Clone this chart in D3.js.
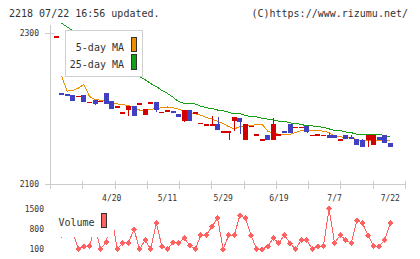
<!DOCTYPE html>
<html>
<head>
<meta charset="utf-8">
<script src="https://cdn.jsdelivr.net/npm/d3@7"></script>
<style>
  body { margin: 0; background: #fff; }
  svg { display: block; }
  text { font-family: "DejaVu Sans Mono", monospace; fill: #333; }
</style>
</head>
<body>
<script>
// daily candles, oldest first (61 trading days)
const openP = [2296,2220,2219,2218,2217,2218,2209,2211,2210,2220,
  2210,2203,2195,2198,2203,2207,2192,2208,2208,2196,
  2198,2197,2193,2184,2198,2195,2181,2179,2179,2179,
  2170,2170,2183,2187,2158,2177,2166,2159,2165,2158,
  2166,2170,2180,2176,2176,2177,2165,2166,2165,2165,
  2165,2159,2165,2162,2160,2158,2158,2151,2162,2165,
  2154];
const highP = [2296,2220,2219,2218,2217,2218,2209,2211,2210,2220,
  2210,2203,2195,2203,2203,2207,2199,2208,2208,2196,
  2198,2197,2193,2198,2198,2195,2181,2179,2190,2189,
  2170,2170,2189,2187,2179,2177,2166,2159,2165,2187,
  2166,2170,2180,2176,2176,2177,2165,2166,2165,2167,
  2165,2159,2165,2165,2160,2160,2165,2165,2162,2165,
  2154];
const lowP = [2296,2218,2216,2210,2217,2208,2209,2204,2210,2206,
  2199,2203,2195,2190,2190,2207,2192,2208,2196,2196,
  2198,2194,2189,2182,2184,2195,2181,2179,2179,2171,
  2170,2158,2170,2166,2158,2177,2166,2159,2158,2158,
  2166,2167,2167,2176,2176,2167,2165,2166,2165,2161,
  2161,2159,2160,2160,2151,2149,2149,2151,2158,2154,
  2149];
const closeP = [2296,2218,2216,2210,2217,2208,2209,2206,2210,2206,
  2199,2203,2195,2203,2190,2207,2199,2208,2198,2196,
  2198,2194,2189,2198,2184,2195,2181,2179,2179,2171,
  2170,2170,2189,2182,2180,2177,2166,2159,2158,2180,
  2166,2167,2167,2176,2176,2169,2165,2166,2165,2161,
  2161,2159,2160,2160,2151,2149,2165,2165,2158,2154,
  2149];
const ma5 = [null,2243,2223,2224,2227,2232,2216,2212,2211,2210,
  2208,2206,2205,2204,2201,2198,2198,2199,2200,2201,
  2202,2201,2199,2197,2195,2193,2191,2188,2186,2183,
  2180,2176,2173,2176,2177,2177,2179,2179,2170,2167,
  2166,2166,2166,2168,2171,2171,2171,2171,2170,2168,
  2163,2163,2161,2161,2159,2156,2158,2158,2158,2157,
  2157];
const ma25 = [null,2313,2308,2303,2297,2292,2287,2282,2276,2271,
  2266,2262,2256,2252,2247,2242,2238,2233,2229,2224,
  2220,2215,2209,2207,2207,2206,2203,2201,2200,2198,
  2197,2195,2193,2193,2191,2189,2189,2187,2186,2185,
  2183,2183,2181,2180,2179,2177,2177,2176,2175,2173,
  2171,2171,2169,2168,2166,2166,2166,2166,2166,2164,
  2162];
const volume = [null,590,830,720,100,200,200,860,100,350,
  1200,100,310,320,785,100,415,100,1010,200,
  100,320,320,480,230,100,585,585,890,1160,
  100,585,585,1260,1160,585,100,100,200,475,
  310,585,310,100,415,415,100,200,200,1485,
  310,585,415,310,1090,1000,585,200,200,415,
  1010];

const dayIdx = d3.range(openP.length);
const dateTickIdx = [10, 20, 30, 40, 50, 60];
const dateTickLabels = ['4/20', '5/11', '5/29', '6/19', '7/7', '7/22'];
const priceTicks = [2100, 2300];
const volTicks = [100, 800, 1500];

const W = 420, H = 259;
const UP = '#d40000', DOWN = '#4040c0';

const svg = d3.select('body').append('svg')
  .attr('width', W).attr('height', H)
  .attr('shape-rendering', 'crispEdges');

svg.append('rect').attr('width', W).attr('height', H).attr('fill', '#fff');

const x = d3.scalePoint().domain(dayIdx).range([56, 390.3]);
const y = d3.scaleLinear().domain([2100, 2300]).range([184, 33]);
const yv = d3.scaleLinear().domain([0, 1500]).range([252.1, 208.5]);
const gridX = d3.scaleLinear().domain([0, 11]).range([50, 405]);

// header
svg.append('text').attr('x', 9).attr('y', 17).attr('font-size', 10)
  .text('2218 07/22 16:56 updated.');
svg.append('text').attr('x', 408).attr('y', 17).attr('font-size', 10)
  .attr('text-anchor', 'end').text('(C)https://www.rizumu.net/');

// axes
const axisCol = '#cccccc';
svg.append('line').attr('x1', 50.5).attr('x2', 50.5).attr('y1', 25).attr('y2', 189)
  .attr('stroke', axisCol);
svg.append('line').attr('x1', 45).attr('x2', 405.5).attr('y1', y(2100) + 0.5).attr('y2', y(2100) + 0.5)
  .attr('stroke', axisCol);
svg.append('line').attr('x1', 45).attr('x2', 54).attr('y1', y(2300) + 0.5).attr('y2', y(2300) + 0.5)
  .attr('stroke', axisCol);
svg.selectAll('.gtick').data(d3.range(12)).join('line')
  .attr('x1', d => Math.round(gridX(d)) + 0.5).attr('x2', d => Math.round(gridX(d)) + 0.5)
  .attr('y1', 180.5).attr('y2', 189)
  .attr('stroke', axisCol);

svg.selectAll('.plab').data(priceTicks).join('text')
  .attr('x', 39).attr('y', d => y(d) + 3)
  .attr('text-anchor', 'end').attr('font-size', 8)
  .text(d => d);

svg.selectAll('.dlab').data(dateTickIdx).join('text')
  .attr('x', d => x(d)).attr('y', 201)
  .attr('text-anchor', 'middle').attr('font-size', 8)
  .text((d, i) => dateTickLabels[i]);

// moving averages
const maLine = arr => d3.line()
  .defined(i => arr[i] != null)
  .x(i => x(i)).y(i => y(arr[i]))(dayIdx);
svg.append('path').attr('d', maLine(ma25)).attr('fill', 'none')
  .attr('stroke', '#14a014').attr('stroke-width', 1);
svg.append('path').attr('d', maLine(ma5)).attr('fill', 'none')
  .attr('stroke', '#f08c00').attr('stroke-width', 1);

// candles
const col = i => closeP[i] < openP[i] ? DOWN : UP;
svg.selectAll('.wick').data(dayIdx.filter(i => highP[i] > lowP[i])).join('line')
  .attr('x1', i => Math.round(x(i)) + 0.5).attr('x2', i => Math.round(x(i)) + 0.5)
  .attr('y1', i => y(highP[i])).attr('y2', i => y(lowP[i]))
  .attr('stroke', col);
svg.selectAll('.body').data(dayIdx).join('rect')
  .attr('x', i => x(i) - 2.5).attr('width', 5)
  .attr('y', i => Math.min(y(openP[i]), y(closeP[i])))
  .attr('height', i => Math.max(1.5, Math.abs(y(openP[i]) - y(closeP[i]))))
  .attr('fill', col);

// price legend
const lg = svg.append('g');
lg.append('rect').attr('x', 65.5).attr('y', 30.5).attr('width', 77).attr('height', 46)
  .attr('fill', '#fff').attr('stroke', '#d0d0d0');
lg.append('text').attr('x', 124).attr('y', 51).attr('font-size', 10)
  .attr('text-anchor', 'end').text('5-day MA');
lg.append('text').attr('x', 124).attr('y', 67.5).attr('font-size', 10)
  .attr('text-anchor', 'end').text('25-day MA');
lg.append('rect').attr('x', 131.5).attr('y', 37.5).attr('width', 5).attr('height', 14)
  .attr('fill', '#f08c00').attr('stroke', '#333');
lg.append('rect').attr('x', 131.5).attr('y', 54.5).attr('width', 5).attr('height', 15)
  .attr('fill', '#14a014').attr('stroke', '#333');

// volume
const volCol = '#ff6060';
svg.append('path')
  .attr('d', d3.line().defined(i => volume[i] != null).x(i => x(i)).y(i => yv(volume[i]))(dayIdx))
  .attr('fill', 'none').attr('stroke', volCol).attr('stroke-width', 1);
svg.selectAll('.vpt').data(dayIdx.filter(i => volume[i] != null)).join('path')
  .attr('d', d3.symbol(d3.symbolSquare, 18))
  .attr('transform', i => `translate(${x(i)},${yv(volume[i])}) rotate(45)`)
  .attr('fill', volCol);

svg.selectAll('.vlab').data(volTicks).join('text')
  .attr('x', 44).attr('y', d => yv(d) + 3)
  .attr('text-anchor', 'end').attr('font-size', 8)
  .text(d => d);

// volume legend
svg.append('rect').attr('x', 55).attr('y', 204).attr('width', 58.5).attr('height', 32.5)
  .attr('fill', '#fff');
svg.append('text').attr('x', 58.5).attr('y', 226).attr('font-size', 10).text('Volume');
svg.append('rect').attr('x', 101.5).attr('y', 213.5).attr('width', 5).attr('height', 14)
  .attr('fill', volCol).attr('stroke', '#333');
</script>
</body>
</html>
